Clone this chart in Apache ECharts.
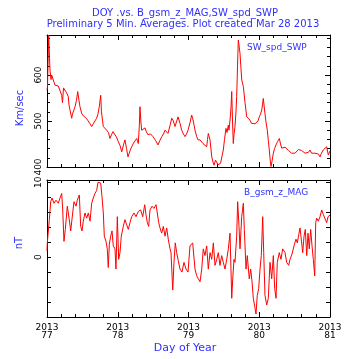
<!DOCTYPE html>
<html><head><meta charset="utf-8">
<script src="https://cdn.jsdelivr.net/npm/echarts@6/dist/echarts.min.js"></script>
<style>html,body{margin:0;padding:0;background:#fff}#c{width:355px;height:359px}</style>
</head><body><div id="c"></div>
<script>
const titleLine1 = 'DOY .vs. B_gsm_z_MAG,SW_spd_SWP';
const titleLine2 = 'Preliminary 5 Min. Averages. Plot created Mar 28 2013';
const xTickYear = '2013';
const xName = 'Day of Year';
const spdName = 'SW_spd_SWP', spdUnit = 'Km/sec';
const bzName = 'B_gsm_z_MAG', bzUnit = 'nT';

const spdDays = [
77.000,77.007,77.024,77.035,77.042,77.057,77.066,77.089,77.113,77.134,
77.160,77.184,77.208,77.219,77.233,77.254,77.278,77.301,77.311,77.325,
77.349,77.360,77.372,77.396,77.417,77.434,77.452,77.466,77.490,77.509,
77.537,77.561,77.584,77.608,77.632,77.654,77.678,77.701,77.720,77.739,
77.759,77.770,77.784,77.796,77.820,77.844,77.869,77.890,77.911,77.933,
77.961,77.982,78.008,78.032,78.056,78.081,78.102,78.124,78.145,78.173,
78.197,78.223,78.244,78.268,78.290,78.305,78.314,78.326,78.338,78.361,
78.385,78.406,78.428,78.463,78.498,78.534,78.569,78.597,78.622,78.647,
78.668,78.689,78.710,78.739,78.763,78.786,78.809,78.830,78.852,78.880,
78.904,78.927,78.951,78.972,78.993,79.021,79.045,79.068,79.092,79.116,
79.134,79.163,79.184,79.205,79.233,79.257,79.269,79.280,79.304,79.329,
79.347,79.361,79.382,79.399,79.417,79.436,79.453,79.470,79.492,79.509,
79.530,79.544,79.563,79.572,79.587,79.601,79.611,79.622,79.633,79.643,
79.657,79.671,79.681,79.693,79.704,79.714,79.728,79.739,79.753,79.775,
79.799,79.823,79.846,79.869,79.890,79.916,79.940,79.964,79.982,80.001,
80.018,80.035,80.046,80.057,80.067,80.081,80.095,80.114,80.128,80.142,
80.155,80.166,80.180,80.199,80.216,80.237,80.258,80.284,80.301,80.317,
80.343,80.364,80.388,80.413,80.435,80.456,80.481,80.505,80.530,80.555,
80.576,80.597,80.623,80.647,80.671,80.696,80.717,80.739,80.764,80.788,
80.812,80.837,80.859,80.880,80.905,80.929,80.953,80.976,81.000];
const spdValues = [
567,575,687,640,611,590,600,603,578,582,
576,572,556,540,572,570,561,553,535,524,
506,515,517,531,545,564,545,531,517,512,
509,505,502,494,488,494,498,506,515,531,
556,520,502,488,492,480,475,462,470,477,
473,465,455,447,433,448,459,440,422,435,
444,452,455,462,451,490,531,500,480,478,
485,476,470,472,466,458,448,458,466,472,
480,478,473,490,506,500,488,498,509,495,
480,472,466,472,480,496,513,500,480,466,
459,459,455,451,448,444,460,473,459,422,
410,404,415,411,405,401,408,411,437,460,
484,475,491,480,502,530,564,500,451,470,
488,520,553,620,676,665,647,620,589,575,
540,509,505,502,495,491,494,491,500,509,
515,524,535,549,535,516,498,480,458,437,
415,401,412,430,440,448,455,462,450,441,
437,443,441,436,433,430,426,430,433,438,
441,436,433,430,426,432,437,430,426,430,
433,428,422,430,437,440,444,426,435];

const bzDays = [
77.000,77.004,77.033,77.052,77.071,77.099,77.127,77.160,77.184,77.208,
77.222,77.240,77.259,77.287,77.315,77.335,77.363,77.382,77.410,77.428,
77.457,77.476,77.495,77.513,77.537,77.561,77.584,77.608,77.632,77.654,
77.678,77.702,77.721,77.739,77.759,77.777,77.796,77.810,77.834,77.852,
77.866,77.881,77.900,77.919,77.937,77.961,77.975,77.994,78.013,78.032,
78.050,78.078,78.102,78.127,78.149,78.173,78.197,78.230,78.258,78.290,
78.324,78.353,78.381,78.399,78.418,78.437,78.456,78.484,78.512,78.541,
78.559,78.579,78.597,78.621,78.644,78.668,78.692,78.714,78.739,78.753,
78.777,78.795,78.813,78.833,78.856,78.880,78.908,78.936,78.965,78.993,
79.021,79.059,79.092,79.116,79.139,79.163,79.187,79.209,79.233,79.257,
79.280,79.304,79.328,79.351,79.375,79.399,79.421,79.445,79.469,79.492,
79.516,79.540,79.563,79.587,79.611,79.625,79.643,79.657,79.681,79.695,
79.714,79.728,79.752,79.775,79.789,79.813,79.831,79.859,79.879,79.898,
79.916,79.936,79.954,79.972,79.992,80.011,80.029,80.049,80.063,80.081,
80.105,80.128,80.152,80.176,80.199,80.218,80.237,80.255,80.283,80.307,
80.331,80.364,80.388,80.416,80.435,80.463,80.491,80.519,80.538,80.558,
80.576,80.594,80.614,80.633,80.651,80.671,80.689,80.707,80.727,80.746,
80.764,80.784,80.798,80.812,80.835,80.859,80.883,80.905,80.929,80.953,
80.972,80.990,81.000];
const bzValues = [
0.8,1.9,5.0,7.4,7.9,7.2,7.6,7.2,7.9,8.5,
6.3,2.1,3.7,6.8,5.0,3.5,5.9,7.4,6.8,7.6,
8.3,4.1,3.5,4.8,5.9,5.2,5.9,4.8,7.2,7.9,
8.5,8.9,10.0,10.2,9.9,8.1,5.9,2.8,2.1,1.1,
-1.4,1.7,2.8,3.5,1.5,1.1,-1.6,5.4,-0.3,0.6,
2.8,4.1,5.0,4.3,3.7,4.6,5.4,5.9,5.4,6.1,
6.3,5.4,7.0,5.7,4.6,4.1,6.3,6.8,6.5,7.0,
5.9,4.6,3.9,3.2,4.1,2.8,3.9,2.4,1.1,0.6,
-4.4,-0.7,1.9,0.6,-0.5,-1.6,-2.0,-0.7,-1.6,-2.0,
1.5,1.9,-1.6,-2.5,-2.9,-3.3,-1.6,1.1,0.2,1.5,
-1.6,0.6,-0.3,1.9,-1.1,-0.3,0.6,-1.1,0.2,-0.7,
-1.6,-0.3,1.1,3.2,-5.5,-2.9,-0.3,-0.7,2.8,7.4,
4.1,1.1,5.4,7.2,3.7,-1.6,0.2,-2.9,-1.6,-3.3,
-5.5,-6.6,-7.6,-5.1,-4.2,-1.6,0.2,5.4,0.6,-5.1,
-6.4,-5.5,-0.7,-2.9,0.2,-4.2,-5.5,-0.7,0.6,-0.3,
1.1,0.6,-0.7,-1.1,-0.3,0.4,1.5,2.4,1.9,3.0,
3.9,2.4,0.6,2.8,3.7,0.2,3.2,1.1,3.7,1.5,
-0.3,-2.5,4.6,5.2,4.8,5.4,6.3,5.7,5.9,4.6,
5.4,5.2,5.6];

const zip = (a, b) => a.map((d, i) => [d, b[i]]);
const BLUE = '#3030ff';
const FONT = 'DejaVu Sans';
const axisLine = { show: true, onZero: false, lineStyle: { color: '#000', width: 1 } };

function xAx(grid, pos, labels) {
  return {
    type: 'value', gridIndex: grid, position: pos, min: 77, max: 81, interval: 1,
    axisLine: axisLine,
    axisTick: { show: true, inside: true, length: 5, lineStyle: { color: '#000' } },
    minorTick: { show: true, splitNumber: 5, length: 3, lineStyle: { color: '#000' } },
    splitLine: { show: false },
    axisLabel: labels ? {
      show: true, color: '#000', fontFamily: FONT, fontSize: 9, lineHeight: 8.5, margin: 6,
      formatter: v => xTickYear + '\n' + v
    } : { show: false }
  };
}
const chart = echarts.init(document.getElementById('c'), null, { renderer: 'canvas' });
chart.setOption({
  animation: false,
  backgroundColor: '#fff',
  grid: [
    { left: 47, top: 35, width: 283, height: 132 },
    { left: 47, top: 180, width: 283, height: 137 }
  ],
  xAxis: [xAx(0, 'bottom', false), xAx(0, 'top', false), xAx(1, 'bottom', true), xAx(1, 'top', false)],
  yAxis: [
    { type: 'value', gridIndex: 0, position: 'left', min: 400, max: 687, interval: 100,
      axisLine: axisLine, splitLine: { show: false },
      axisTick: { show: true, inside: true, length: 5, lineStyle: { color: '#000' } },
      minorTick: { show: true, splitNumber: 5, length: 3, lineStyle: { color: '#000' } },
      axisLabel: { rotate: 90, color: '#000', fontFamily: FONT, fontSize: 9, margin: 4, showMaxLabel: false,
        formatter: v => (v % 100 === 0 ? String(v) : '') } },
    { type: 'value', gridIndex: 0, position: 'right', min: 400, max: 687, interval: 100,
      axisLine: axisLine, splitLine: { show: false },
      axisTick: { show: true, inside: true, length: 5, lineStyle: { color: '#000' } },
      minorTick: { show: true, splitNumber: 5, length: 3, lineStyle: { color: '#000' } },
      axisLabel: { show: false } },
    { type: 'value', gridIndex: 1, position: 'left', min: -8, max: 10.3, interval: 2,
      axisLine: axisLine, splitLine: { show: false },
      axisTick: { show: true, inside: true, length: 4, lineStyle: { color: '#000' } },
      axisLabel: { rotate: 90, color: '#000', fontFamily: FONT, fontSize: 9, margin: 4, showMaxLabel: false,
        formatter: v => (v === 0 || v === 10 ? String(v) : '') } },
    { type: 'value', gridIndex: 1, position: 'right', min: -8, max: 10.3, interval: 2,
      axisLine: axisLine, splitLine: { show: false },
      axisTick: { show: true, inside: true, length: 4, lineStyle: { color: '#000' } },
      axisLabel: { show: false } }
  ],
  series: [
    { name: spdName, type: 'line', xAxisIndex: 0, yAxisIndex: 0, data: zip(spdDays, spdValues),
      showSymbol: false, symbol: 'none', lineStyle: { color: '#ff0000', width: 1 }, clip: true },
    { name: bzName, type: 'line', xAxisIndex: 2, yAxisIndex: 2, data: zip(bzDays, bzValues),
      showSymbol: false, symbol: 'none', lineStyle: { color: '#ff0000', width: 1 }, clip: true }
  ],
  graphic: [
    { type: 'text', x: 185, y: 13, style: { text: titleLine1, fill: BLUE, font: '10px "DejaVu Sans"', textAlign: 'center', textVerticalAlign: 'middle' } },
    { type: 'text', x: 183, y: 24, style: { text: titleLine2, fill: BLUE, font: '10px "DejaVu Sans"', textAlign: 'center', textVerticalAlign: 'middle' } },
    { type: 'text', x: 247, y: 48, style: { text: spdName, fill: BLUE, font: '9px "DejaVu Sans"', textAlign: 'left', textVerticalAlign: 'middle' } },
    { type: 'text', x: 244, y: 193, style: { text: bzName, fill: BLUE, font: '9px "DejaVu Sans"', textAlign: 'left', textVerticalAlign: 'middle' } },
    { type: 'text', x: 20, y: 108, rotation: Math.PI / 2, style: { text: spdUnit, fill: BLUE, font: '10px "DejaVu Sans"', textAlign: 'center', textVerticalAlign: 'middle' } },
    { type: 'text', x: 19, y: 243, rotation: Math.PI / 2, style: { text: bzUnit, fill: BLUE, font: '10px "DejaVu Sans"', textAlign: 'center', textVerticalAlign: 'middle' } },
    { type: 'text', x: 185, y: 348, style: { text: xName, fill: BLUE, font: '11px "DejaVu Sans"', textAlign: 'center', textVerticalAlign: 'middle' } }
  ]
});
</script></body></html>
